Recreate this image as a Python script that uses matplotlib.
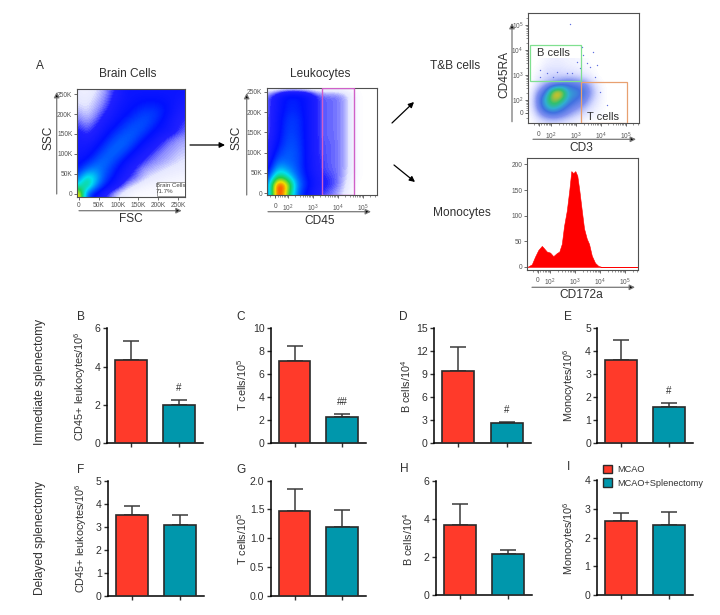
import matplotlib
matplotlib.use("Agg")
import matplotlib.pyplot as plt
from matplotlib.colors import LinearSegmentedColormap
from matplotlib.patches import Patch, Rectangle
from matplotlib.ticker import FixedLocator

plt.rcParams["font.family"] = ["Liberation Sans", "DejaVu Sans"]
plt.rcParams["mathtext.default"] = "regular"

W, H = 720, 615
RED = "#FF3A2A"
TEAL = "#0097AC"
DARK = "#2A2A2A"
TXT = "#303030"

# bar panels: MCAO / MCAO+Splenectomy
groups = ["MCAO", "MCAO+Splenectomy"]
b_vals, b_err = [4.36, 1.99], [5.36, 2.27]
c_vals, c_err = [7.16, 2.26], [8.46, 2.58]
d_vals, d_err = [9.43, 2.60], [12.5, 2.83]
e_vals, e_err = [3.59, 1.57], [4.45, 1.72]
f_vals, f_err = [3.51, 3.06], [3.91, 3.52]
g_vals, g_err = [1.47, 1.19], [1.86, 1.49]
h_vals, h_err = [3.68, 2.18], [4.80, 2.40]
i_vals, i_err = [2.57, 2.45], [2.86, 2.90]

b_ticks = [0, 2, 4, 6]
c_ticks = [0, 2, 4, 6, 8, 10]
d_ticks = [0, 3, 6, 9, 12, 15]
e_ticks = [0, 1, 2, 3, 4, 5]
f_ticks = [0, 1, 2, 3, 4, 5]
g_ticks = [0.0, 0.5, 1.0, 1.5, 2.0]
h_ticks = [0, 2, 4, 6]
i_ticks = [0, 1, 2, 3, 4]

# CD172a histogram, x in decades
hist_x = [1.09, 1.27, 1.40, 1.53, 1.67, 1.73, 1.87, 2.00, 2.13, 2.27, 2.37, 2.47, 2.56, 2.67,
          2.77, 2.85, 2.93, 3.01, 3.09, 3.17, 3.27, 3.36, 3.47, 3.56, 3.67, 3.80, 3.93, 4.07, 5.53]
hist_y = [0, 5, 20, 33, 41, 38, 30, 28, 21, 27, 30, 45, 80, 110,
          150, 187, 183, 187, 178, 150, 110, 75, 55, 45, 22, 8, 2, 0, 0]

# density, first row = top of the plot
fsc_ssc = [
    [.04, .03, .05, .07, .10, .13, .17, .17, .17, .17, .17, .17, .17, .17],
    [.05, .04, .06, .08, .11, .14, .17, .18, .19, .19, .19, .18, .17, .15],
    [.06, .05, .07, .09, .12, .16, .18, .20, .22, .23, .22, .20, .16, .14],
    [.08, .06, .08, .11, .14, .17, .20, .23, .26, .26, .24, .19, .15, .12],
    [.10, .08, .10, .13, .16, .20, .24, .27, .28, .26, .21, .17, .13, .11],
    [.12, .10, .12, .15, .20, .24, .28, .29, .27, .22, .18, .16, .13, .10],
    [.14, .12, .14, .19, .24, .29, .30, .28, .22, .18, .14, .11, .09, .08],
    [.15, .15, .18, .23, .29, .31, .29, .23, .17, .14, .11, .09, .08, .07],
    [.16, .17, .22, .28, .31, .29, .23, .17, .14, .11, .09, .08, .07, .06],
    [.18, .22, .28, .32, .29, .23, .17, .14, .11, .09, .08, .07, .06, .05],
    [.22, .32, .36, .31, .25, .19, .14, .11, .08, .07, .06, .05, .04, .04],
    [.32, .52, .45, .30, .22, .16, .12, .10, .07, .05, .04, .03, .03, .02],
    [.46, .60, .38, .24, .17, .13, .08, .05, .03, .02, .02, .01, .01, .01],
    [.85, .30, .18, .13, .09, .05, .03, .01, .01, .01, .01, .01, .01, .01],
]
cd45_ssc = [
    [0, 0, 0, 0, 0, 0, 0, 0, 0, 0, 0, 0],
    [.09, .15, .21, .21, .18, .11, .095, .095, .07, .01, 0, 0],
    [.09, .16, .22, .22, .18, .11, .095, .095, .07, .01, 0, 0],
    [.09, .16, .23, .23, .18, .11, .095, .095, .07, .01, 0, 0],
    [.09, .17, .25, .25, .18, .11, .095, .095, .07, .01, 0, 0],
    [.09, .17, .26, .25, .18, .11, .095, .095, .07, .01, 0, 0],
    [.09, .18, .27, .26, .18, .11, .095, .095, .07, .01, 0, 0],
    [.10, .20, .28, .27, .18, .11, .10, .095, .07, .01, 0, 0],
    [.10, .24, .30, .28, .18, .11, .10, .095, .07, .01, 0, 0],
    [.11, .31, .30, .28, .18, .12, .10, .095, .07, .01, 0, 0],
    [.14, .42, .36, .28, .18, .12, .10, .095, .07, .01, 0, 0],
    [.20, .62, .48, .30, .20, .13, .11, .10, .06, .01, 0, 0],
    [.30, 1.0, .78, .34, .22, .14, .12, .10, .05, 0, 0, 0],
    [.25, 1.0, .68, .30, .18, .12, .10, .08, .04, 0, 0, 0],
]
cd3_cd45ra = [
    [0, 0, .02, .03, .03, .02, .02, .01, 0, 0, 0],
    [0, .01, .05, .05, .05, .04, .03, .02, .01, 0, 0],
    [0, .03, .06, .08, .08, .08, .08, .05, .03, 0, 0],
    [0, .06, .12, .16, .22, .28, .22, .20, .10, .02, 0],
    [.01, .15, .30, .80, .88, .42, .40, .28, .14, .04, 0],
    [.02, .20, .50, .78, .66, .40, .30, .22, .10, .03, 0],
    [.02, .18, .42, .55, .40, .25, .18, .12, .05, .02, 0],
    [.01, .10, .20, .24, .20, .14, .08, .05, .02, .01, 0],
    [0, .03, .05, .06, .05, .03, .02, .01, 0, 0, 0],
]
# loose events outside the CD3/CD45RA cloud
stray_x = [2.76, 1.56, 1.83, 2.09, 2.23, 1.56, 2.63, 3.29, 3.56, 3.83, 3.43, 3.16, 3.76,
           3.96, 4.23, 4.09, 3.03, 3.69, 3.23, 2.83]
stray_y = [5.03, 3.20, 3.07, 2.93, 3.13, 2.93, 3.07, 3.80, 3.33, 3.40, 3.47, 3.27, 2.93,
           2.33, 1.80, 1.40, 3.53, 3.93, 4.13, 3.07]

scatter_ticks = [0, 50, 100, 150, 200, 250]
scatter_labels = ["0", "50K", "100K", "150K", "200K", "250K"]
decade_ticks = [1.5, 2, 3, 4, 5]
decade_labels = ["0", "$10^2$", "$10^3$", "$10^4$", "$10^5$"]
hist_ticks = [0, 50, 100, 150, 200]

flow_cmap = LinearSegmentedColormap.from_list("flow", [
    (0.0, "#FFFFFF"), (0.05, "#E6E8FF"), (0.085, "#8888FF"), (0.115, "#2020FF"), (0.2, "#0010FF"),
    (0.32, "#0070FF"), (0.45, "#00E0F0"), (0.6, "#20D050"), (0.75, "#F0E000"),
    (0.87, "#FF5000"), (0.95, "#E00000"), (1.0, "#D00000")])
sparse_cmap = LinearSegmentedColormap.from_list("sparse", [
    (0.0, "#FFFFFF"), (0.06, "#D8DCFF"), (0.16, "#8090F0"), (0.3, "#4070E0"),
    (0.45, "#30B0D0"), (0.6, "#30C070"), (0.75, "#C0C030"), (1.0, "#E87020")])


def px_axes(fig, left, top, right, bottom):
    """Axes placed from pixel edges of the figure."""
    return fig.add_axes([left / W, 1 - bottom / H, (right - left) / W, (bottom - top) / H])


def fig_text(fig, x, y, s, size=8.6, rotation=0, **kw):
    fig.text(x / W, 1 - y / H, s, fontsize=size, rotation=rotation, color=TXT,
             ha="center", va="center", **kw)


def fig_arrow(fig, x0, y0, x1, y1, color="black", lw=0.9):
    fig.add_artist(plt.Annotation("", xy=(x1 / W, 1 - y1 / H), xytext=(x0 / W, 1 - y0 / H),
                                  xycoords="figure fraction", textcoords="figure fraction",
                                  arrowprops=dict(arrowstyle="-|>", ec=color, fc="black", lw=lw,
                                                  mutation_scale=8, shrinkA=0, shrinkB=0)))


def bar_panel(fig, box, vals, err, ticks, mark=None):
    ax = px_axes(fig, *box)
    ax.bar([0, 1], vals, width=0.667, color=[RED, TEAL], edgecolor=DARK, linewidth=1.2, zorder=3)
    ax.errorbar([0, 1], vals, yerr=[[0, 0], [e - v for e, v in zip(err, vals)]], fmt="none",
                ecolor="#3A3A3A", elinewidth=1.1, capsize=6, capthick=1.1, zorder=2)
    ax.set_xlim(-0.5, 1.5)
    ax.set_ylim(ticks[0], ticks[-1])
    ax.set_xticks([0, 1], ["", ""])
    ax.set_yticks(ticks)
    ax.tick_params(labelsize=7.6, length=3, width=1, pad=1.5, colors=TXT)
    ax.spines[["top", "right"]].set_visible(False)
    ax.spines[["left", "bottom"]].set_linewidth(1.1)
    if mark:
        ax.annotate(mark, (1, err[1]), xytext=(0, 8.6), textcoords="offset points",
                    ha="center", va="center", fontsize=7, color=TXT)
    return ax


def flow_axes(fig, box, xlim, ylim, xticks, xlabels, yticks, ylabels, xpad=1.5):
    ax = px_axes(fig, *box)
    ax.set_xlim(*xlim)
    ax.set_ylim(*ylim)
    ax.set_xticks(xticks, xlabels)
    ax.set_yticks(yticks, ylabels)
    ax.tick_params(labelsize=4.8, length=2, width=0.6, pad=1.5, colors="#555555")
    ax.tick_params(axis="x", pad=xpad)
    for s in ax.spines.values():
        s.set_linewidth(0.8)
        s.set_color("#505050")
    return ax


def minor_decades(ax, axis="x"):
    locs = []
    for d in range(1, 6):
        for m in [0.3, 0.48, 0.6, 0.7, 0.78, 0.85, 0.9, 0.95]:
            locs.append(d + m)
    target = ax.xaxis if axis == "x" else ax.yaxis
    target.set_minor_locator(FixedLocator(locs))
    ax.tick_params(axis=axis, which="minor", length=1.2, width=0.4, color="#444444")


fig = plt.figure(figsize=(W / 100, H / 100), dpi=100, facecolor="white")

# --- flow panels ---
ax1 = flow_axes(fig, (77.3, 88.7, 185.3, 196.7), (-4, 268), (-8, 264),
                scatter_ticks, scatter_labels, scatter_ticks, scatter_labels)
ax1.imshow(fsc_ssc, extent=(-10, 270, -10, 270), origin="upper", cmap=flow_cmap, vmin=0, vmax=1,
           interpolation="bicubic", aspect="auto")
ax1.set_xlim(-4, 268)
ax1.set_ylim(-8, 264)
ax1.add_patch(Rectangle((196, -6), 70, 34, fc="white", ec="#777777", lw=0.5, zorder=4))
ax1.text(232, 19, "Brain Cells", fontsize=4.4, ha="center", va="center", color="#444444", zorder=5)
ax1.text(215, 4, "71.7%", fontsize=4.4, ha="center", va="center", color="#444444", zorder=5)

ax2 = flow_axes(fig, (267, 87.7, 376.7, 195.3), (1.16, 5.55), (-5, 260),
                decade_ticks, decade_labels, scatter_ticks, scatter_labels, xpad=3.2)
ax2.imshow(cd45_ssc, extent=(1.0, 5.7, -10, 270), origin="upper", cmap=flow_cmap, vmin=0, vmax=1,
           interpolation="bicubic", aspect="auto")
ax2.set_xlim(1.16, 5.55)
ax2.set_ylim(-5, 260)
minor_decades(ax2)
ax2.add_patch(Rectangle((3.37, -3.5), 1.28, 263, fc="none", ec="#D060C8", lw=1, zorder=4))

ax3 = flow_axes(fig, (528.3, 13.3, 638.7, 123.3), (1.09, 5.51), (1.07, 5.47),
                decade_ticks, decade_labels, decade_ticks, decade_labels, xpad=3.5)
ax3.imshow(cd3_cd45ra, extent=(1.05, 4.35, 0.95, 3.65), origin="upper", cmap=sparse_cmap, vmin=0, vmax=1,
           interpolation="bicubic", aspect="auto")
ax3.scatter(stray_x, stray_y, s=1, color="#6070E0", linewidths=0)
ax3.set_xlim(1.09, 5.51)
ax3.set_ylim(1.07, 5.47)
minor_decades(ax3)
minor_decades(ax3, "y")
ax3.add_patch(Rectangle((1.17, 2.75), 2.02, 1.44, fc="none", ec="#80E090", lw=0.9, zorder=4))
ax3.add_patch(Rectangle((3.19, 1.07), 1.87, 1.64, fc="none", ec="#E8A070", lw=0.9, zorder=4))
ax3.text(2.1, 3.87, "B cells", fontsize=8, ha="center", va="center", color=TXT, zorder=5)
ax3.text(4.09, 1.33, "T cells", fontsize=8, ha="center", va="center", color=TXT, zorder=5)

ax4 = flow_axes(fig, (527.3, 158.3, 638.3, 270), (1.09, 5.53), (-6, 212),
                decade_ticks, decade_labels, hist_ticks, hist_ticks, xpad=3)
ax4.fill_between(hist_x, hist_y, 0, color="#FF0000", lw=0.4)
minor_decades(ax4)

# axis arrows and their titles
for a in [(56.7, 194, 56.7, 92), (79, 210.7, 181.7, 210.7), (246.7, 195, 246.7, 93),
          (268, 211.7, 371, 211.7), (512, 121.7, 512, 23), (533, 139.3, 636, 139.3),
          (532, 287.3, 635, 287.3)]:
    fig_arrow(fig, *a, color="#777777")
fig_arrow(fig, 190, 145, 225, 145)
fig_arrow(fig, 392, 123, 414, 102)
fig_arrow(fig, 394, 165, 415, 182)

fig_text(fig, 40, 66, "A", size=8.6)
fig_text(fig, 128, 74, "Brain Cells")
fig_text(fig, 320, 74, "Leukocytes")
fig_text(fig, 49, 138, "SSC", rotation=90)
fig_text(fig, 237, 138, "SSC", rotation=90)
fig_text(fig, 130.7, 219, "FSC")
fig_text(fig, 320, 220.5, "CD45")
fig_text(fig, 455, 66, "T&B cells")
fig_text(fig, 461.7, 213, "Monocytes")
fig_text(fig, 504, 75, "CD45RA", rotation=90)
fig_text(fig, 581.7, 148, "CD3")
fig_text(fig, 581.7, 294.5, "CD172a")

# --- bar panels ---
bar_panel(fig, (107, 328.3, 203, 443), b_vals, b_err, b_ticks, "#")
bar_panel(fig, (270.7, 328.3, 366, 443.3), c_vals, c_err, c_ticks, "##")
bar_panel(fig, (434, 328.3, 531, 443.3), d_vals, d_err, d_ticks, "#")
bar_panel(fig, (597.3, 327.7, 693, 442.7), e_vals, e_err, e_ticks, "#")
bar_panel(fig, (108, 480.7, 204, 595.7), f_vals, f_err, f_ticks)
bar_panel(fig, (270.7, 480.7, 366, 595.7), g_vals, g_err, g_ticks)
bar_panel(fig, (435.7, 481.3, 532, 595.3), h_vals, h_err, h_ticks)
bar_panel(fig, (596.7, 480, 692.7, 595), i_vals, i_err, i_ticks)

for x, y, s in [(81, 317, "B"), (241, 317, "C"), (403, 317, "D"), (568, 317, "E"),
                (81, 470, "F"), (241, 470, "G"), (404, 469, "H"), (569, 467, "I")]:
    fig_text(fig, x, y, s, size=8.6)

for x, y, s in [(80, 386, "CD45+ leukocytes/$10^6$"), (242, 385, "T cells/$10^5$"),
                (406, 386, "B cells/$10^4$"), (569, 385, "Monocytes/$10^6$"),
                (81, 538, "CD45+ leukocytes/$10^6$"), (242, 539, "T cells/$10^5$"),
                (408, 539, "B cells/$10^4$"), (569, 538, "Monocytes/$10^6$")]:
    fig_text(fig, x, y, s, size=7.8, rotation=90)

fig_text(fig, 40, 382, "Immediate splenectomy", rotation=90)
fig_text(fig, 40, 538, "Delayed splenectomy", rotation=90)

handles = [Patch(facecolor=RED, edgecolor=DARK, lw=1), Patch(facecolor=TEAL, edgecolor=DARK, lw=1)]
fig.legend(handles, groups, loc="upper left", bbox_to_anchor=(602.7 / W, 1 - 465 / H), frameon=False,
           fontsize=6.6, handlelength=1.0, handleheight=1.0, handletextpad=0.58, labelspacing=0.45,
           borderpad=0, borderaxespad=0, labelcolor=TXT)

fig.savefig("out.png", dpi=100)
